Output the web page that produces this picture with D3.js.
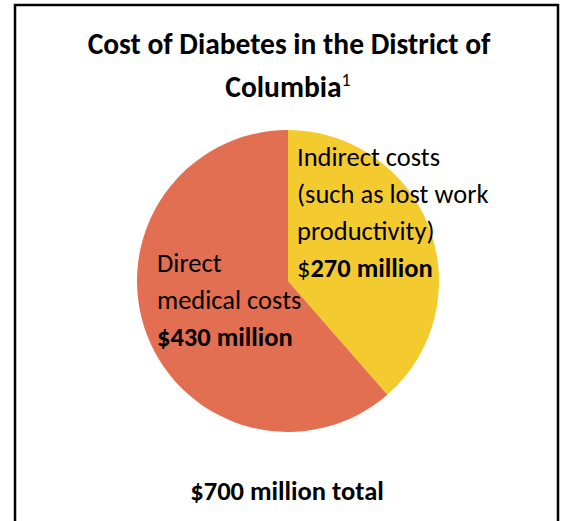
<!DOCTYPE html>
<html>
<head>
<meta charset="utf-8">
<script src="https://cdn.jsdelivr.net/npm/d3@7"></script>
<style>
  html, body { margin: 0; padding: 0; background: #fff; }
  svg { display: block; font-family: Carlito, Calibri, Lato, sans-serif; }
</style>
</head>
<body>
<div id="viz"></div>
<script>
// slice data (millions of dollars), drawn clockwise from 12 o'clock
var categories = ["Indirect costs", "Direct medical costs"];
var values = [270, 430];
var colors = ["#F4CB2F", "#E36F52"];
var titleLines = ["Cost of Diabetes in the District of", "Columbia"];
var totalLabel = "$700 million total";

var width = 561,
    height = 521;

var svg = d3.select("#viz").append("svg")
    .attr("width", width)
    .attr("height", height);

// frame
svg.append("rect")
    .attr("x", 15)
    .attr("y", 5)
    .attr("width", 543)
    .attr("height", height + 10)
    .style("fill", "none")
    .style("stroke", "#000")
    .style("stroke-width", 2.5);

// title
var title = svg.append("text")
    .attr("text-anchor", "middle")
    .style("font-weight", "bold")
    .style("font-size", "29.5px")
    .style("fill", "#000");
title.append("tspan").attr("x", 289).attr("y", 54).text(titleLines[0]);
title.append("tspan").attr("x", 288).attr("y", 97).text(titleLines[1]);
title.append("tspan")
    .attr("dy", -11)
    .style("font-size", "18px")
    .style("font-weight", "normal")
    .text("1");

// pie
var cx = 288, cy = 281, radius = 151;

var pie = d3.pie()
    .sort(null)
    .value(function(d) { return d; });

var arc = d3.arc()
    .innerRadius(0)
    .outerRadius(radius);

svg.append("g")
    .attr("transform", "translate(" + cx + "," + cy + ")")
  .selectAll("path")
    .data(pie(values))
    .enter()
    .append("path")
    .attr("d", arc)
    .style("fill", function(d, i) { return colors[i]; });

// slice labels
function fmt(v) { return v + " million"; }

var labelSize = "26.5px";

var ind = svg.append("text")
    .style("font-size", labelSize)
    .style("fill", "#000");
ind.append("tspan").attr("x", 297).attr("y", 166).text("Indirect costs");
ind.append("tspan").attr("x", 297).attr("y", 203).text("(such as lost work");
ind.append("tspan").attr("x", 297).attr("y", 240).text("productivity)");
ind.append("tspan").attr("x", 297).attr("y", 277).text("$");
ind.append("tspan").style("font-weight", "bold").text(fmt(values[0]));

var dir = svg.append("text")
    .style("font-size", labelSize)
    .style("fill", "#000");
dir.append("tspan").attr("x", 157).attr("y", 272).text("Direct");
dir.append("tspan").attr("x", 157).attr("y", 309).text("medical costs");
dir.append("tspan").attr("x", 157).attr("y", 346)
    .style("font-weight", "bold")
    .text("$" + fmt(values[1]));

// total
svg.append("text")
    .attr("x", 287)
    .attr("y", 500)
    .attr("text-anchor", "middle")
    .style("font-weight", "bold")
    .style("font-size", "26.5px")
    .style("fill", "#000")
    .text(totalLabel);
</script>
</body>
</html>
